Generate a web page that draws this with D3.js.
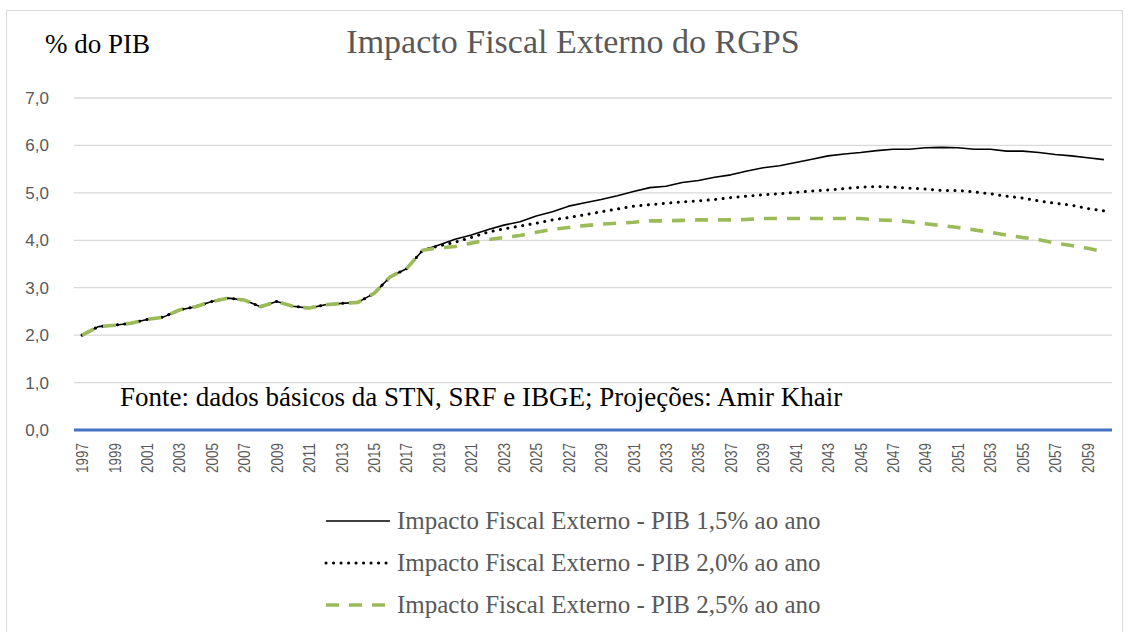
<!DOCTYPE html>
<html>
<head>
<meta charset="utf-8">
<script src="https://cdn.jsdelivr.net/npm/d3@7"></script>
<style>
  body { margin: 0; background: #fff; }
</style>
</head>
<body>
<div id="chart"></div>
<script>
var years = ["1997","1998","1999","2000","2001","2002","2003","2004","2005","2006",
  "2007","2008","2009","2010","2011","2012","2013","2014","2015","2016",
  "2017","2018","2019","2020","2021","2022","2023","2024","2025","2026",
  "2027","2028","2029","2030","2031","2032","2033","2034","2035","2036",
  "2037","2038","2039","2040","2041","2042","2043","2044","2045","2046",
  "2047","2048","2049","2050","2051","2052","2053","2054","2055","2056",
  "2057","2058","2059","2060"];

// 1997-2018, shared by the three scenarios
var historico = [2.00, 2.18, 2.21, 2.25, 2.33, 2.38, 2.53, 2.60, 2.71, 2.78,
  2.74, 2.60, 2.71, 2.61, 2.57, 2.64, 2.67, 2.69, 2.88, 3.23, 3.40, 3.79];

// 2019-2060 projections
var pib15 = [3.90, 4.02, 4.11, 4.22, 4.32, 4.39, 4.51, 4.60, 4.72, 4.79,
  4.86, 4.94, 5.03, 5.11, 5.14, 5.22, 5.26, 5.33, 5.38, 5.46,
  5.53, 5.57, 5.64, 5.71, 5.78, 5.82, 5.85, 5.89, 5.92, 5.92,
  5.95, 5.96, 5.95, 5.92, 5.92, 5.88, 5.88, 5.85, 5.81, 5.78,
  5.74, 5.70];
var pib20 = [3.88, 3.96, 4.06, 4.17, 4.24, 4.30, 4.36, 4.43, 4.48, 4.54,
  4.60, 4.66, 4.72, 4.75, 4.78, 4.81, 4.83, 4.86, 4.90, 4.93,
  4.96, 4.98, 5.01, 5.04, 5.06, 5.09, 5.12, 5.13, 5.12, 5.10,
  5.08, 5.05, 5.05, 5.02, 4.98, 4.93, 4.89, 4.83, 4.78, 4.74,
  4.67, 4.62];
var pib25 = [3.84, 3.87, 3.94, 4.01, 4.06, 4.10, 4.17, 4.23, 4.27, 4.31,
  4.34, 4.36, 4.38, 4.41, 4.41, 4.42, 4.43, 4.43, 4.43, 4.44,
  4.46, 4.46, 4.46, 4.46, 4.46, 4.46, 4.46, 4.43, 4.42, 4.39,
  4.35, 4.31, 4.27, 4.22, 4.17, 4.11, 4.06, 4.01, 3.94, 3.89,
  3.83, 3.76];

var yTicks = [0, 1, 2, 3, 4, 5, 6, 7];
var seriesNames = ["Impacto Fiscal Externo - PIB 1,5% ao ano",
  "Impacto Fiscal Externo - PIB 2,0% ao ano",
  "Impacto Fiscal Externo - PIB 2,5% ao ano"];

var serif = "'Liberation Serif', 'Times New Roman', serif";
var sans = "'Liberation Sans', Arial, sans-serif";

var series = [
  { name: seriesNames[0], values: historico.concat(pib15), color: "#000", width: 1.6, dash: null, cap: "butt" },
  { name: seriesNames[1], values: historico.concat(pib20), color: "#000", width: 3, dash: "0.1,7.4", cap: "round" },
  { name: seriesNames[2], values: historico.concat(pib25), color: "#9bbb59", width: 3.6, dash: "13,10", cap: "butt" }
];

var W = 1129, H = 632;
var svg = d3.select("#chart")
    .append("svg")
    .attr("width", W)
    .attr("height", H);

svg.append("rect")
    .attr("x", 6.5)
    .attr("y", 10.5)
    .attr("width", 1116)
    .attr("height", 640)
    .attr("fill", "#fff")
    .attr("stroke", "#d9d9d9");

var x = d3.scaleBand()
    .domain(years)
    .range([74, 1112])
    .padding(0);

var y = d3.scaleLinear()
    .domain([0, 7])
    .range([430, 98]);

// gridlines
svg.append("g")
    .selectAll("line")
    .data(yTicks.filter(function(d) { return d > 0; }))
    .enter()
    .append("line")
    .attr("x1", 74)
    .attr("x2", 1112)
    .attr("y1", function(d) { return y(d) })
    .attr("y2", function(d) { return y(d) })
    .style("stroke", "#d9d9d9")
    .style("stroke-width", 1.3);

// y axis labels
var yAxis = svg.append("g")
    .attr("transform", "translate(49,0)")
    .call(d3.axisLeft(y).tickValues(yTicks).tickSize(0).tickPadding(0)
        .tickFormat(function(d) { return d3.format(".1f")(d).replace(".", ","); }));
yAxis.select(".domain").remove();
yAxis.selectAll("text")
    .style("font-family", sans)
    .style("font-size", "17px")
    .style("fill", "#595959");

// x axis labels
var xAxis = svg.append("g")
    .attr("transform", "translate(0,430)")
    .call(d3.axisBottom(x)
        .tickValues(years.filter(function(d, i) { return i % 2 == 0; }))
        .tickSize(0));
xAxis.select(".domain").remove();
xAxis.selectAll("text")
    .attr("transform", "rotate(-90)")
    .attr("text-anchor", "end")
    .attr("x", -13)
    .attr("y", 0)
    .attr("dy", "0.36em")
    .attr("textLength", 30)
    .attr("lengthAdjust", "spacingAndGlyphs")
    .style("font-family", sans)
    .style("font-size", "16.5px")
    .style("fill", "#595959");

// lines
var line = d3.line()
    .x(function(d, i) { return x(years[i]) + x.bandwidth() / 2 })
    .y(function(d) { return y(d) });

svg.append("g")
    .selectAll("path")
    .data(series)
    .enter()
    .append("path")
    .attr("d", function(d) { return line(d.values) })
    .style("fill", "none")
    .style("stroke", function(d) { return d.color })
    .style("stroke-width", function(d) { return d.width })
    .style("stroke-dasharray", function(d) { return d.dash })
    .style("stroke-linecap", function(d) { return d.cap })
    .style("stroke-linejoin", "round");

// zero axis line
svg.append("line")
    .attr("x1", 74)
    .attr("x2", 1112)
    .attr("y1", y(0))
    .attr("y2", y(0))
    .style("stroke", "#4472c4")
    .style("stroke-width", 3.2);

svg.append("text")
    .attr("x", 573)
    .attr("y", 53)
    .attr("text-anchor", "middle")
    .style("font-family", serif)
    .style("font-size", "34px")
    .style("fill", "#595959")
    .text("Impacto Fiscal Externo do RGPS");

svg.append("text")
    .attr("x", 45)
    .attr("y", 53)
    .style("font-family", serif)
    .style("font-size", "27px")
    .style("fill", "#000")
    .text("% do PIB");

svg.append("text")
    .attr("x", 120)
    .attr("y", 406)
    .style("font-family", serif)
    .style("font-size", "27px")
    .style("fill", "#000")
    .text("Fonte: dados básicos da STN, SRF e IBGE; Projeções: Amir Khair");

// legend
var legend = svg.append("g")
    .selectAll("g")
    .data(series)
    .enter()
    .append("g")
    .attr("transform", function(d, i) { return "translate(326," + (521 + i * 42) + ")" });

legend.append("line")
    .attr("x1", 0)
    .attr("x2", 64)
    .style("stroke", function(d) { return d.color })
    .style("stroke-width", function(d) { return d.width })
    .style("stroke-dasharray", function(d) { return d.dash })
    .style("stroke-linecap", function(d) { return d.cap });

legend.append("text")
    .attr("x", 71)
    .attr("y", 8)
    .style("font-family", serif)
    .style("font-size", "25px")
    .style("fill", "#595959")
    .text(function(d) { return d.name });
</script>
</body>
</html>
